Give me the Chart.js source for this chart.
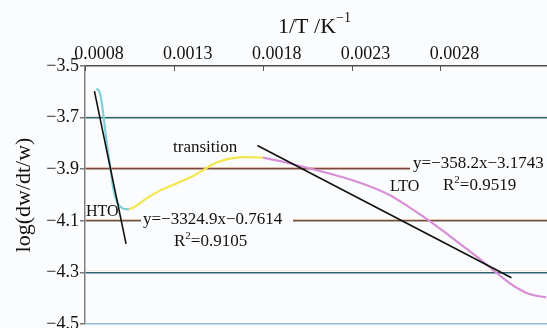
<!DOCTYPE html>
<html>
<head>
<meta charset="utf-8">
<script src="https://cdn.jsdelivr.net/npm/chart.js@4.4.1/dist/chart.umd.min.js"></script>
<style>
  html, body { margin: 0; padding: 0; background: #fbfcfe; }
  #wrap { width: 547px; height: 328px; position: relative; }
</style>
</head>
<body>
<div id="wrap"><canvas id="c" width="547" height="328"></canvas></div>
<script>
// Axis ticks
const xTicks = [0.0008, 0.0013, 0.0018, 0.0023, 0.0028];
const yTicks = [-3.5, -3.7, -3.9, -4.1, -4.3, -4.5];

// High-temperature oxidation stage
const htoX = [0.000865, 0.000881, 0.000893, 0.000904, 0.000915, 0.000926, 0.000938,
              0.000949, 0.000960, 0.000974, 0.000991, 0.001013, 0.001047];
const htoY = [-3.587, -3.599, -3.636, -3.694, -3.756, -3.818, -3.872,
              -3.926, -3.977, -4.016, -4.039, -4.052, -4.056];

// Transition stage
const transX = [0.001047, 0.001081, 0.001147, 0.001221, 0.001315, 0.001408, 0.001474,
                0.001521, 0.001596, 0.001671, 0.001746, 0.001802];
const transY = [-4.056, -4.045, -4.013, -3.983, -3.955, -3.926, -3.900,
                -3.880, -3.862, -3.854, -3.854, -3.855];

// Low-temperature oxidation stage
const ltoX = [0.001802, 0.001914, 0.002083, 0.002251, 0.002383, 0.002514, 0.002626,
              0.002738, 0.002851, 0.002963, 0.003038, 0.003113, 0.003205, 0.003300,
              0.003396];
const ltoY = [-3.855, -3.871, -3.900, -3.931, -3.961, -4.000, -4.048,
              -4.100, -4.158, -4.217, -4.257, -4.300, -4.349, -4.384,
              -4.397];

// Linear fits: [slope, intercept] and the x span each fit line covers
const htoFit = [-3324.9, -0.7614];
const ltoFit = [-358.2, -3.1743];
const htoFitSpan = [0.000853, 0.001031];
const ltoFitSpan = [0.00177, 0.00320];

const SERIF = '"Liberation Serif", "Times New Roman", serif';
const font = size => `${size}px ${SERIF}`;

const pts = (xs, ys) => xs.map((x, i) => ({ x, y: ys[i] }));
const fitPts = (fit, span) => span.map(x => ({ x, y: fit[0] * x + fit[1] }));
const minus = v => (v < 0 ? '\u2212' : '') + Math.abs(v).toFixed(1);
const near = (a, b) => Math.abs(a - b) < 1e-6;

function drawRich(ctx, x, y, parts) {
  let cx = x;
  for (const [t, size, dy] of parts) {
    ctx.font = font(size);
    ctx.fillText(t, cx, y - dy);
    cx += ctx.measureText(t).width;
  }
  return cx;
}

const deco = {
  id: 'deco',
  beforeDraw(chart) {
    const ctx = chart.ctx;
    ctx.save();
    ctx.fillStyle = '#fbfcfe';
    ctx.fillRect(0, 0, chart.width, chart.height);
    ctx.restore();
  },
  beforeDatasetsDraw(chart) {
    const { ctx, chartArea: a, scales } = chart;
    ctx.save();
    // warm fringe just above each inner gridline
    const fringe = { '-3.7': 'rgba(226,160,110,0.25)', '-3.9': 'rgba(200,115,75,0.45)',
                     '-4.1': 'rgba(205,125,80,0.4)', '-4.3': 'rgba(226,160,110,0.25)' };
    for (const v of [-3.7, -3.9, -4.1, -4.3]) {
      const y = Math.round(scales.y.getPixelForValue(v)) - 1.5;
      ctx.strokeStyle = fringe[v.toFixed(1)];
      ctx.lineWidth = 1;
      ctx.beginPath(); ctx.moveTo(a.left, y); ctx.lineTo(a.right, y); ctx.stroke();
    }
    // inward tick marks on the top axis
    ctx.strokeStyle = '#555';
    ctx.lineWidth = 1;
    for (const v of xTicks) {
      const x = Math.round(scales.x.getPixelForValue(v)) + 0.5;
      ctx.beginPath(); ctx.moveTo(x, a.top); ctx.lineTo(x, a.top + 5); ctx.stroke();
    }
    ctx.restore();
  },
  afterDatasetsDraw(chart) {
    const ctx = chart.ctx;
    ctx.save();
    // text boxes of the fit equations
    ctx.fillStyle = '#fbfcfe';
    ctx.fillRect(141, 208, 152, 44);
    ctx.fillRect(410, 153, 137, 42);

    ctx.fillStyle = '#111';
    ctx.textBaseline = 'alphabetic';
    ctx.textAlign = 'left';
    drawRich(ctx, 173, 152, [['transition', 17, 0]]);
    drawRich(ctx, 86, 216, [['HTO', 16, 0]]);
    drawRich(ctx, 390, 191, [['LTO', 16, 0]]);
    drawRich(ctx, 143, 224, [['y=\u22123324.9x\u22120.7614', 17, 0]]);
    drawRich(ctx, 174, 246, [['R', 17, 0], ['2', 11, 7], ['=0.9105', 17, 0]]);
    drawRich(ctx, 413, 168, [['y=\u2212358.2x\u22123.1743', 17, 0]]);
    drawRich(ctx, 443, 190, [['R', 17, 0], ['2', 11, 7], ['=0.9519', 17, 0]]);

    // top axis title with superscript
    drawRich(ctx, 278, 33, [['1/T /K', 22, 0], ['\u22121', 14, 11]]);
    ctx.restore();
  }
};

const curve = (data, color) => ({
  data, showLine: true, borderColor: color, borderWidth: 2.2,
  pointRadius: 0, tension: 0.3, order: 1
});
const fitLine = data => ({
  data, showLine: true, borderColor: '#111', borderWidth: 1.6,
  pointRadius: 0, tension: 0, order: 0
});

new Chart(document.getElementById('c'), {
  type: 'scatter',
  data: {
    datasets: [
      curve(pts(htoX, htoY), '#7fd0d8'),
      curve(pts(transX, transY), '#f2e64c'),
      curve(pts(ltoX, ltoY), '#d78fd6'),
      fitLine(fitPts(htoFit, htoFitSpan)),
      fitLine(fitPts(ltoFit, ltoFitSpan))
    ]
  },
  options: {
    responsive: false,
    devicePixelRatio: 1,
    animation: false,
    layout: { padding: { left: 0, right: 0, top: 0, bottom: 4 } },
    plugins: { legend: { display: false }, tooltip: { enabled: false } },
    scales: {
      x: {
        type: 'linear',
        position: 'top',
        min: 0.0008,
        max: 0.0034,
        afterBuildTicks: s => { s.ticks = xTicks.map(value => ({ value })); },
        afterFit: s => { s.height = 66; s.paddingLeft = 0; s.paddingRight = 0; },
        grid: { drawOnChartArea: false, drawTicks: false },
        border: { display: true, color: '#4e4e4e', width: 1.5 },
        ticks: {
          autoSkip: false, maxRotation: 0, padding: 1, labelOffset: 14,
          color: '#111', font: { family: SERIF, size: 18 },
          callback: v => v.toFixed(4)
        }
      },
      y: {
        type: 'linear',
        min: -4.5,
        max: -3.5,
        afterBuildTicks: s => { s.ticks = yTicks.map(value => ({ value })); },
        afterFit: s => { s.width = 85; s.paddingTop = 0; s.paddingBottom = 0; },
        grid: {
          lineWidth: 1.5,
          tickLength: 5,
          tickColor: '#777',
          color: c => {
            const v = c.tick ? c.tick.value : 0;
            if (near(v, -3.5)) return 'rgba(0,0,0,0)';
            if (near(v, -4.5)) return '#94bbd8';
            if (near(v, -3.9)) return '#7d4a3a';
            if (near(v, -4.1)) return '#6f5142';
            return '#2f6478';
          }
        },
        border: { display: true, color: '#808080', width: 1.5 },
        ticks: {
          padding: 1, color: '#111', font: { family: SERIF, size: 18 },
          callback: v => minus(v)
        },
        title: {
          display: true, text: 'log(dw/dt/w)', color: '#111',
          font: { family: SERIF, size: 22 }, padding: { top: 11, bottom: 0 }
        }
      }
    }
  },
  plugins: [deco]
});
</script>
</body>
</html>
